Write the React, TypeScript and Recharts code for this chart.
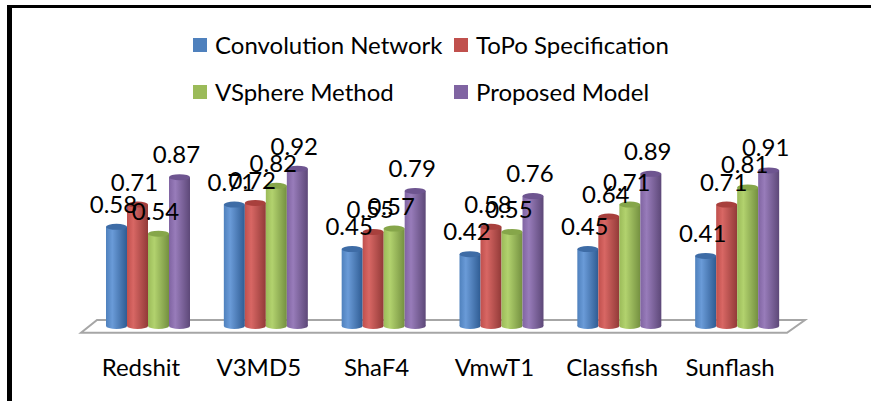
import { Bar, BarChart, LabelList, Legend, ReferenceArea, XAxis, YAxis } from "recharts";

const CATEGORIES = ["Redshit", "V3MD5", "ShaF4", "VmwT1", "Classfish", "Sunflash"];
const CONVOLUTION = [0.58, 0.71, 0.45, 0.42, 0.45, 0.41];
const TOPO = [0.71, 0.72, 0.55, 0.58, 0.64, 0.71];
const VSPHERE = [0.54, 0.82, 0.57, 0.55, 0.71, 0.81];
const PROPOSED = [0.87, 0.92, 0.79, 0.76, 0.89, 0.91];

const SERIES = [
  { key: "conv", name: "Convolution Network", color: "#4F81BD", light: "#6A9BD8", dark: "#2F5C93", top: "#3E6CA6" },
  { key: "topo", name: "ToPo Specification", color: "#C0504D", light: "#D86764", dark: "#923A38", top: "#A8403D" },
  { key: "vsph", name: "VSphere Method", color: "#9BBB59", light: "#B2D26E", dark: "#749040", top: "#86A64A" },
  { key: "prop", name: "Proposed Model", color: "#8064A2", light: "#987CBA", dark: "#5D4878", top: "#6E5590" },
];

const data = CATEGORIES.map((name, i) => ({
  name,
  conv: CONVOLUTION[i],
  topo: TOPO[i],
  vsph: VSPHERE[i],
  prop: PROPOSED[i],
}));

const FONT = "Lato, 'Open Sans', sans-serif";

// cylinder-ish bar: shaded body plus elliptical top and bottom
function Cylinder(props: any) {
  const { x, y, width, height, gid, topColor } = props;
  if (!height || height <= 0) return null;
  const rx = width / 2;
  const ry = 3;
  return (
    <g>
      <ellipse cx={x + rx} cy={y + height} rx={rx} ry={ry} fill={`url(#${gid})`} />
      <rect x={x} y={y} width={width} height={height} fill={`url(#${gid})`} />
      <ellipse cx={x + rx} cy={y} rx={rx} ry={ry} fill={topColor} />
    </g>
  );
}

function ValueLabel(props: any) {
  const { x, y, width, value } = props;
  return (
    <text
      x={x + width / 2 - 3}
      y={y - 14}
      textAnchor="middle"
      fontFamily={FONT}
      fontSize={24}
      fill="#000"
    >
      {value}
    </text>
  );
}

function CategoryTick(props: any) {
  const { x, y, payload } = props;
  return (
    <text x={x - 7} y={y + 42} textAnchor="middle" fontFamily={FONT} fontSize={24} fill="#000">
      {payload.value}
    </text>
  );
}

// floor plate drawn as a slanted parallelogram under the bars
function Floor(props: any) {
  const { x, y, width, height } = props;
  const pts = [
    [x + 8, y],
    [x + width + 9, y],
    [x + width - 9, y + height],
    [x - 8, y + height],
  ]
    .map((p) => p.join(","))
    .join(" ");
  return <polygon points={pts} fill="#fff" stroke="#A6A6A6" strokeWidth={2} />;
}

function LegendBox() {
  return (
    <div
      style={{
        display: "grid",
        gridTemplateColumns: "261px 240px",
        gridAutoRows: "47px",
        fontFamily: FONT,
        fontSize: 24,
        color: "#000",
      }}
    >
      {SERIES.map((s) => (
        <div key={s.key} style={{ display: "flex", alignItems: "center" }}>
          <span
            style={{
              display: "inline-block",
              width: 14,
              height: 14,
              background: s.color,
              marginRight: 8,
            }}
          />
          <span>{s.name}</span>
        </div>
      ))}
    </div>
  );
}

export default function App() {
  return (
    <div style={{ position: "absolute", left: 0, top: 0, width: 871, height: 401, background: "#fff" }}>
      <div
        style={{
          position: "absolute",
          left: 7,
          top: 5,
          width: 864,
          height: 396,
          borderTop: "3px solid #000",
          borderLeft: "5px solid #000",
          boxSizing: "border-box",
        }}
      />
      <BarChart
        width={871}
        height={401}
        data={data}
        margin={{ top: 155, right: 75, bottom: 0, left: 89 }}
        barSize={21}
        barGap={0}
        style={{ position: "absolute", left: 0, top: 0 }}
      >
        <defs>
          {SERIES.map((s) => (
            <linearGradient key={s.key} id={`g-${s.key}`} x1="0" y1="0" x2="1" y2="0">
              <stop offset="0%" stopColor={s.color} />
              <stop offset="30%" stopColor={s.light} />
              <stop offset="100%" stopColor={s.dark} />
            </linearGradient>
          ))}
        </defs>
        <XAxis
          dataKey="name"
          axisLine={false}
          tickLine={false}
          tick={<CategoryTick />}
          interval={0}
          height={75}
        />
        <YAxis hide domain={[0, 1]} />
        <ReferenceArea y1={-0.04} y2={0.035} ifOverflow="visible" shape={<Floor />} />
        <Legend
          layout="horizontal"
          align="center"
          verticalAlign="middle"
          content={<LegendBox />}
          wrapperStyle={{ position: "absolute", left: 193, top: 21, width: 520 }}
        />
        {SERIES.map((s) => (
          <Bar
            key={s.key}
            dataKey={s.key}
            name={s.name}
            fill={s.color}
            isAnimationActive={false}
            shape={<Cylinder gid={`g-${s.key}`} topColor={s.top} />}
          >
            <LabelList dataKey={s.key} content={<ValueLabel />} />
          </Bar>
        ))}
      </BarChart>
    </div>
  );
}
